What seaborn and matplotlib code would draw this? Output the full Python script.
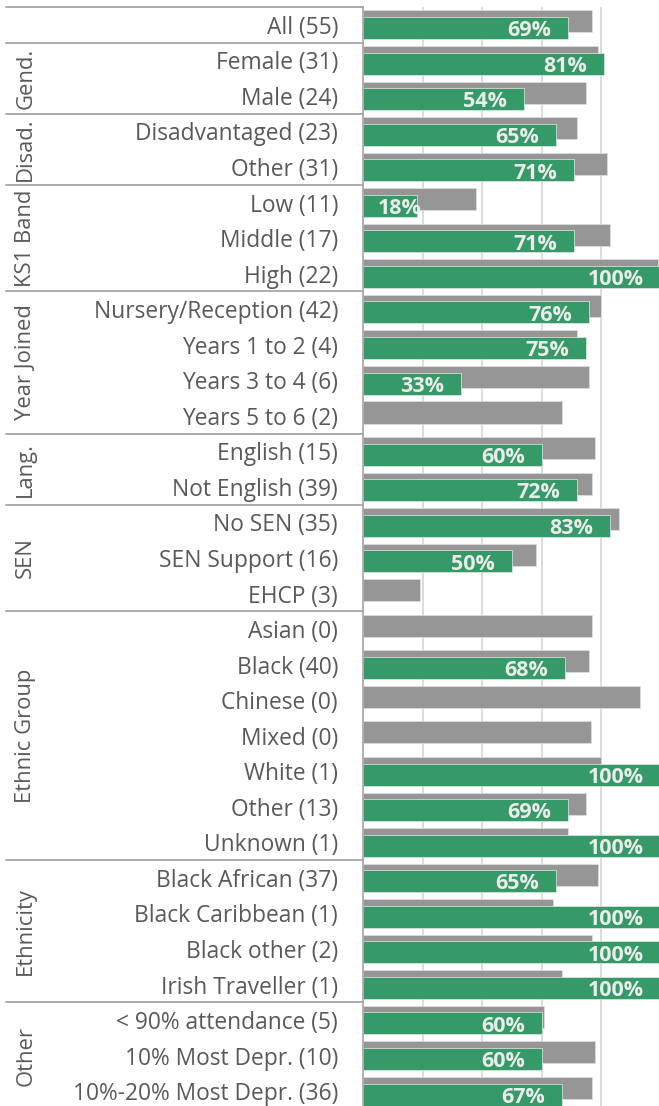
import numpy as np
import pandas as pd
import matplotlib
matplotlib.use('Agg')
import matplotlib.pyplot as plt
import seaborn as sns

# Data (percent)
labels = ['All (55)', 'Female (31)', 'Male (24)', 'Disadvantaged (23)', 'Other (31)',
          'Low (11)', 'Middle (17)', 'High (22)',
          'Nursery/Reception (42)', 'Years 1 to 2 (4)', 'Years 3 to 4 (6)', 'Years 5 to 6 (2)',
          'English (15)', 'Not English (39)',
          'No SEN (35)', 'SEN Support (16)', 'EHCP (3)',
          'Asian (0)', 'Black (40)', 'Chinese (0)', 'Mixed (0)', 'White (1)', 'Other (13)', 'Unknown (1)',
          'Black African (37)', 'Black Caribbean (1)', 'Black other (2)', 'Irish Traveller (1)',
          '< 90% attendance (5)', '10% Most Depr. (10)', '10%-20% Most Depr. (36)']
school = [69, 81, 54, 65, 71,
          18, 71, 100,
          76, 75, 33, np.nan,
          60, 72,
          83, 50, np.nan,
          np.nan, 68, np.nan, np.nan, 100, 69, 100,
          65, 100, 100, 100,
          60, 60, 67]
national = [77, 79, 75, 72, 82,
            38, 83, 99,
            80, 72, 76, 67,
            78, 77,
            86, 58, 19,
            77, 76, 93, 76.5, 80, 75, 69,
            79, 64, 77, 67,
            61, 78, 77]
group_names = ['Gend.', 'Disad.', 'KS1 Band', 'Year Joined', 'Lang.', 'SEN',
               'Ethnic Group', 'Ethnicity', 'Other']
group_sizes = [2, 2, 3, 4, 2, 3, 7, 4, 3]

GREEN = '#359a68'
GREY = '#969696'
TEXT = '#595959'

sns.set_theme(style='white')
plt.rcParams['font.family'] = ['Open Sans', 'DejaVu Sans']

df = pd.DataFrame({'label': labels, 'pos': np.arange(len(labels)),
                   'school': school, 'national': national})

fig = plt.figure(figsize=(6.59, 11.06), dpi=100)
ax = fig.add_axes([363 / 659, -3 / 1106, 297.5 / 659, 1102 / 1106])

sns.barplot(x=df['national'], y=df['pos'] - 0.093, orient='h', native_scale=True,
            width=0.62, color=GREY, saturation=1, errorbar=None, ax=ax,
            edgecolor='#e0e0e0', linewidth=0.5)
sns.barplot(x=df['school'], y=df['pos'] + 0.093, orient='h', native_scale=True,
            width=0.62, color=GREEN, saturation=1, errorbar=None, ax=ax,
            edgecolor='#e8e8e8', linewidth=0.5)

ax.set_xlim(0, 100)
ax.set_ylim(len(labels) - 0.5, -0.5)
ax.set_xticks([0, 20, 40, 60, 80, 100])
ax.set_xticklabels([])
ax.xaxis.grid(True, color='#d9d9d9', lw=1.3)
ax.set_axisbelow(True)
ax.set_xlabel('')
ax.set_ylabel('')
for s in ['top', 'right', 'bottom']:
    ax.spines[s].set_visible(False)
ax.spines['left'].set_color('#a6a6a6')
ax.spines['left'].set_linewidth(1.2)

ax.set_yticks(df['pos'])
ax.set_yticklabels(df['label'], fontsize=16.4, color=TEXT)
ax.tick_params(axis='y', length=0, pad=18)
ax.tick_params(axis='x', length=0)

# value labels
for i, v in enumerate(school):
    if np.isnan(v):
        continue
    ax.text(max(v - 5.7, 19.7), i + 0.17, f'{v:.0f}%', ha='right', va='center',
            fontsize=15.5, fontweight='bold', color='#ebebeb')

# group labels and separators
tr = ax.get_yaxis_transform()
bounds = [-0.5, 0.5]
start = 1
for name, n in zip(group_names, group_sizes):
    mid = start + (n - 1) / 2
    ax.text(-1.134, mid, name, transform=tr, rotation=90, ha='center', va='center',
            fontsize=15.8, color=TEXT)
    start += n
    bounds.append(start - 0.5)
for b in bounds[:-1]:
    ax.plot([-1.2, 0], [b, b], transform=tr, clip_on=False, color='#a6a6a6', lw=1.3)

fig.savefig('out.png', dpi=100)
